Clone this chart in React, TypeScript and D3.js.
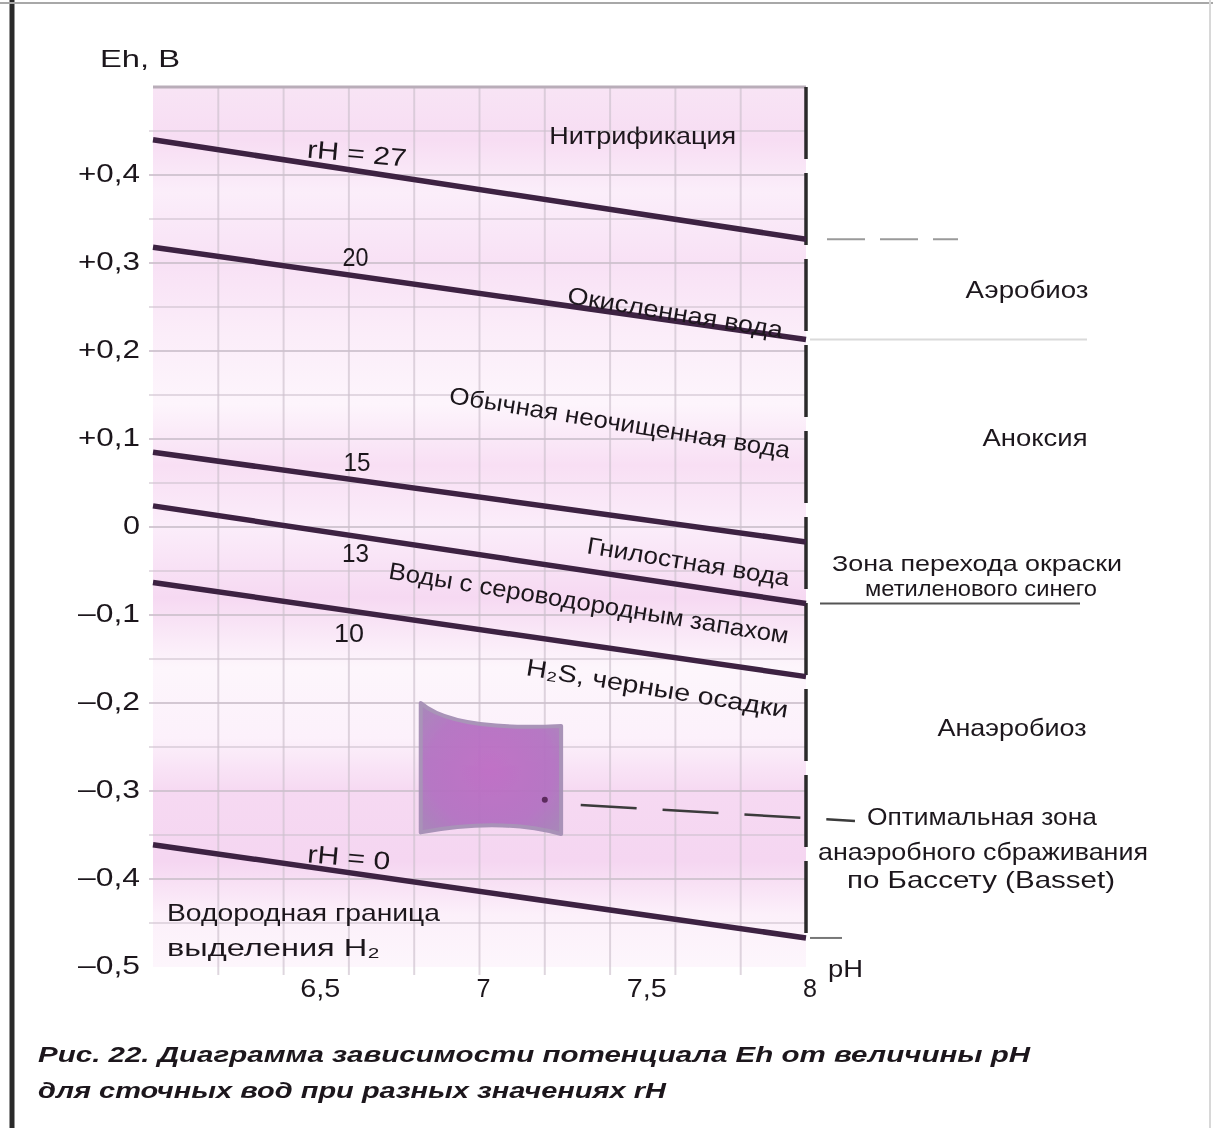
import React, { FC, useEffect, useRef } from "react"
import { line, scaleLinear, select, range } from "d3"

const W = 1213
const H = 1128

// rH isolines: Eh (V) read at pH 6 and at pH 8
const rHValues = [27, 20, 15, 13, 10, 0]
const ehAtPh6 = [0.44, 0.318, 0.085, 0.024, -0.063, -0.361]
const ehAtPh8 = [0.327, 0.213, -0.017, -0.087, -0.17, -0.467]
const rHLabels = ["rH = 27", "20", "15", "13", "10", "rH = 0"]

const yTicks = [0.4, 0.3, 0.2, 0.1, 0, -0.1, -0.2, -0.3, -0.4, -0.5]
const yTickLabels = ["+0,4", "+0,3", "+0,2", "+0,1", "0", "–0,1", "–0,2", "–0,3", "–0,4", "–0,5"]
const xTicks = [6.5, 7, 7.5, 8]
const xTickLabels = ["6,5", "7", "7,5", "8"]

const waterZones = [
  "Нитрификация",
  "Окисленная вода",
  "Обычная неочищенная вода",
  "Гнилостная вода",
  "Воды с сероводородным запахом",
  "H₂S, черные осадки",
]
const bioZones = ["Аэробиоз", "Аноксия", "Анаэробиоз"]
const methyleneBlue = ["Зона перехода окраски", "метиленового синего"]
const optimumText = ["Оптимальная зона", "анаэробного сбраживания", "по Бассету (Basset)"]
const hydrogenText = ["Водородная граница", "выделения H₂"]
const caption = [
  "Рис. 22. Диаграмма зависимости потенциала Eh от величины pH",
  "для сточных вод при разных значениях rH",
]

// optimum zone of anaerobic digestion
const optimumPh = [6.82, 7.25]
const optimumEhTop = [-0.2, -0.226]
const optimumEhBottom = [-0.347, -0.349]

const Chart: FC = () => {
  const svgRef = useRef<SVGSVGElement>(null)

  useEffect(() => {
    if (svgRef.current) drawChart(svgRef.current)
  }, [])

  const drawChart = (node: SVGSVGElement) => {
    const svg = select(node)
    svg.selectAll("*").remove()

    // dimensions
    const bounds = { left: 153, right: 806, top: 87, bottom: 967 }
    const font = "'Liberation Sans', Arial, 'DejaVu Sans', sans-serif"
    const ink = "#1d181d"

    // scales
    const xScale = scaleLinear().domain([6, 8]).range([bounds.left, bounds.right])
    const yScale = scaleLinear().domain([-0.5, 0.5]).range([bounds.bottom, bounds.top])

    // defs
    const defs = svg.append("defs")
    defs
      .append("filter")
      .attr("id", "scan")
      .append("feGaussianBlur")
      .attr("stdDeviation", 0.6)

    const bg = defs
      .append("linearGradient")
      .attr("id", "pink")
      .attr("x1", 0)
      .attr("x2", 0)
      .attr("y1", 0)
      .attr("y2", 1)
    const bgStops: [number, string][] = [
      [0, "#f8e4f5"],
      [0.06, "#f7ddf3"],
      [0.12, "#fbeefa"],
      [0.2, "#f8e1f5"],
      [0.28, "#fbedf9"],
      [0.36, "#fdf5fc"],
      [0.43, "#f8dff4"],
      [0.5, "#fbedfa"],
      [0.58, "#f6d9f2"],
      [0.66, "#fdf6fc"],
      [0.74, "#fcf1fb"],
      [0.8, "#f6d9f2"],
      [0.88, "#f5d6f1"],
      [0.94, "#fcf0fa"],
      [1, "#fdf6fc"],
    ]
    bgStops.forEach(([o, c]) => bg.append("stop").attr("offset", o).attr("stop-color", c))

    const zoneFill = defs.append("radialGradient").attr("id", "optimum").attr("r", 0.75)
    zoneFill.append("stop").attr("offset", 0).attr("stop-color", "#bd6cc4")
    zoneFill.append("stop").attr("offset", 0.6).attr("stop-color", "#b372c2")
    zoneFill.append("stop").attr("offset", 1).attr("stop-color", "#9f88b3")

    const root = svg.append("g").attr("filter", "url(#scan)")

    root.append("rect").attr("width", W).attr("height", H).attr("fill", "#fff")

    // page frame from the scan
    root.append("line").attr("x1", 12).attr("x2", 12).attr("y1", 0).attr("y2", H)
      .attr("stroke", "#2b2b2b").attr("stroke-width", 5)
    root.append("line").attr("x1", 0).attr("x2", W).attr("y1", 3).attr("y2", 3)
      .attr("stroke", "#a8a8a8").attr("stroke-width", 2)
    root.append("line").attr("x1", W - 3).attr("x2", W - 3).attr("y1", 0).attr("y2", H)
      .attr("stroke", "#d8d8d8").attr("stroke-width", 2)

    // plot background
    root
      .append("rect")
      .attr("x", bounds.left)
      .attr("y", bounds.top)
      .attr("width", bounds.right - bounds.left)
      .attr("height", bounds.bottom - bounds.top)
      .attr("fill", "url(#pink)")

    // grid
    const grid = root.append("g").attr("stroke", "#cdc1cd").attr("stroke-width", 2)
    range(1, 10).forEach((i) => {
      const x = xScale(6 + i * 0.2)
      grid.append("line").attr("x1", x).attr("x2", x).attr("y1", bounds.top).attr("y2", bounds.bottom + 8)
        .attr("opacity", 0.65)
    })
    range(-9, 10).forEach((i) => {
      const y = yScale(i * 0.05)
      grid.append("line").attr("x1", bounds.left - 4).attr("x2", bounds.right).attr("y1", y).attr("y2", y)
        .attr("opacity", i % 2 === 0 ? 0.85 : 0.55)
    })
    root.append("line").attr("x1", bounds.left).attr("x2", bounds.right)
      .attr("y1", bounds.top).attr("y2", bounds.top)
      .attr("stroke", "#b9adb9").attr("stroke-width", 3)

    // text helper
    type TextOpts = {
      size?: number
      width?: number
      anchor?: string
      rotate?: number
      weight?: string
      italic?: boolean
    }
    const addText = (text: string, x: number, y: number, o: TextOpts = {}) => {
      const t = root
        .append("text")
        .attr("x", x)
        .attr("y", y)
        .attr("font-family", font)
        .attr("font-size", o.size ?? 24)
        .attr("font-weight", o.weight ?? "normal")
        .attr("font-style", o.italic ? "italic" : "normal")
        .attr("fill", ink)
        .attr("text-anchor", o.anchor ?? "middle")
        .attr("dominant-baseline", "central")
        .text(text)
      if (o.width) t.attr("textLength", o.width).attr("lengthAdjust", "spacingAndGlyphs")
      if (o.rotate) t.attr("transform", `rotate(${o.rotate},${x},${y})`)
      return t
    }

    // optimum zone of anaerobic digestion
    const [p0, p1] = optimumPh
    const tl = [xScale(p0), yScale(optimumEhTop[0])]
    const tr = [xScale(p1), yScale(optimumEhTop[1])]
    const br = [xScale(p1), yScale(optimumEhBottom[1])]
    const bl = [xScale(p0), yScale(optimumEhBottom[0])]
    const topCtl = [xScale(p0 + 0.1), yScale(-0.232)]
    const botCtl = [xScale((p0 + p1) / 2 + 0.03), yScale(-0.33)]
    root
      .append("path")
      .attr("d", `M${tl}Q${topCtl} ${tr}L${br}Q${botCtl} ${bl}Z`)
      .attr("fill", "url(#optimum)")
      .attr("stroke", "#a58fb5")
      .attr("stroke-width", 4)
      .attr("stroke-linejoin", "round")
      .attr("opacity", 0.95)
    root.append("circle").attr("cx", xScale(7.2)).attr("cy", yScale(-0.31)).attr("r", 3)
      .attr("fill", "#5b2a5d")

    // leader from optimum zone to its label
    const leader = line<number[]>()
      .x((d) => xScale(d[0]))
      .y((d) => yScale(d[1]))
    root
      .append("path")
      .attr("d", leader([[7.31, -0.316], [8.15, -0.334]]))
      .attr("fill", "none")
      .attr("stroke", "#3a3a3a")
      .attr("stroke-width", 2.5)
      .attr("stroke-dasharray", "56 26")

    // right border of the diagram
    root
      .append("line")
      .attr("x1", bounds.right)
      .attr("x2", bounds.right)
      .attr("y1", bounds.top)
      .attr("y2", yScale(ehAtPh8[5]) + 6)
      .attr("stroke", "#2a2a2a")
      .attr("stroke-width", 3.5)
      .attr("stroke-dasharray", "72 14")

    // extensions of isolines to the right-hand notes
    const ext = (eh: number, x1: number, x2: number, color: string, dash?: string) =>
      root
        .append("line")
        .attr("x1", x1)
        .attr("x2", x2)
        .attr("y1", yScale(eh))
        .attr("y2", yScale(eh))
        .attr("stroke", color)
        .attr("stroke-width", 2)
        .attr("stroke-dasharray", dash ?? null)
    ext(ehAtPh8[0], 827, 958, "#9a9a9a", "38 15")
    ext(ehAtPh8[1], 810, 1087, "#dadada")
    ext(ehAtPh8[3], 820, 1080, "#555")
    ext(ehAtPh8[5], 810, 842, "#777")

    // rH isolines
    const isoline = line<number[]>()
      .x((d) => xScale(d[0]))
      .y((d) => yScale(d[1]))
    rHValues.forEach((_, i) => {
      root
        .append("path")
        .attr("d", isoline([[6, ehAtPh6[i]], [8, ehAtPh8[i]]]))
        .attr("fill", "none")
        .attr("stroke", "#3d2242")
        .attr("stroke-width", 5.5)
    })
    const angle =
      (Math.atan2(yScale(ehAtPh8[0]) - yScale(ehAtPh6[0]), xScale(8) - xScale(6)) * 180) / Math.PI

    // isoline labels
    const rHLabelAt = [
      [6.625, 0.425, 100, angle * 0.6],
      [6.62, 0.307, 26, 0],
      [6.625, 0.074, 27, 0],
      [6.62, -0.03, 27, 0],
      [6.6, -0.12, 30, 0],
      [6.6, -0.375, 83, angle * 0.6],
    ]
    rHLabels.forEach((t, i) => {
      const [ph, eh, w, r] = rHLabelAt[i]
      addText(t, xScale(ph), yScale(eh), { width: w, rotate: r, size: 25 })
    })

    // water state labels
    addText(waterZones[0], xScale(7.5), yScale(0.445), { width: 187 })
    const zoneAt = [
      [7.6, 0.244, 218],
      [7.43, 0.119, 345],
      [7.64, -0.039, 205],
      [7.335, -0.086, 405],
      [7.545, -0.183, 265],
    ]
    zoneAt.forEach(([ph, eh, w], i) => {
      addText(waterZones[i + 1], xScale(ph), yScale(eh), { width: w, rotate: angle + 0.6 })
    })

    // right-hand notes
    addText(bioZones[0], 1027, yScale(0.27), { width: 123 })
    addText(bioZones[1], 1035, yScale(0.102), { width: 105 })
    addText(methyleneBlue[0], 977, yScale(-0.041), { width: 290, size: 22 })
    addText(methyleneBlue[1], 981, yScale(-0.07), { width: 232, size: 22 })
    addText(bioZones[2], 1012, yScale(-0.228), { width: 149 })
    addText(optimumText[0], 982, yScale(-0.329), { width: 230 })
    addText(optimumText[1], 983, yScale(-0.369), { width: 330 })
    addText(optimumText[2], 981, yScale(-0.401), { width: 268 })

    // hydrogen evolution note
    addText(hydrogenText[0], 167, yScale(-0.438), { width: 273, anchor: "start" })
    addText(hydrogenText[1], 167, yScale(-0.478), { width: 213, anchor: "start" })

    // axes
    yTicks.forEach((v, i) => {
      const t = yTickLabels[i]
      addText(t, 140, yScale(v) - 2, { anchor: "end", size: 25, width: t.length > 1 ? 62 : 17 })
    })
    xTicks.forEach((v, i) => {
      const t = xTickLabels[i]
      addText(t, xScale(v) + 4, 988, { size: 25, width: t.length > 1 ? 40 : 14 })
    })
    addText("Eh, В", 100, 58, { anchor: "start", width: 80 })
    addText("pH", 828, 968, { anchor: "start", width: 35 })

    // caption
    addText(caption[0], 38, 1054, { anchor: "start", width: 992, size: 22, weight: "bold", italic: true })
    addText(caption[1], 38, 1090, { anchor: "start", width: 628, size: 22, weight: "bold", italic: true })
  }

  return (
    <svg
      ref={svgRef}
      width={W}
      height={H}
      style={{ position: "absolute", left: 0, top: 0, display: "block" }}
    />
  )
}

export default function App() {
  return <Chart />
}
